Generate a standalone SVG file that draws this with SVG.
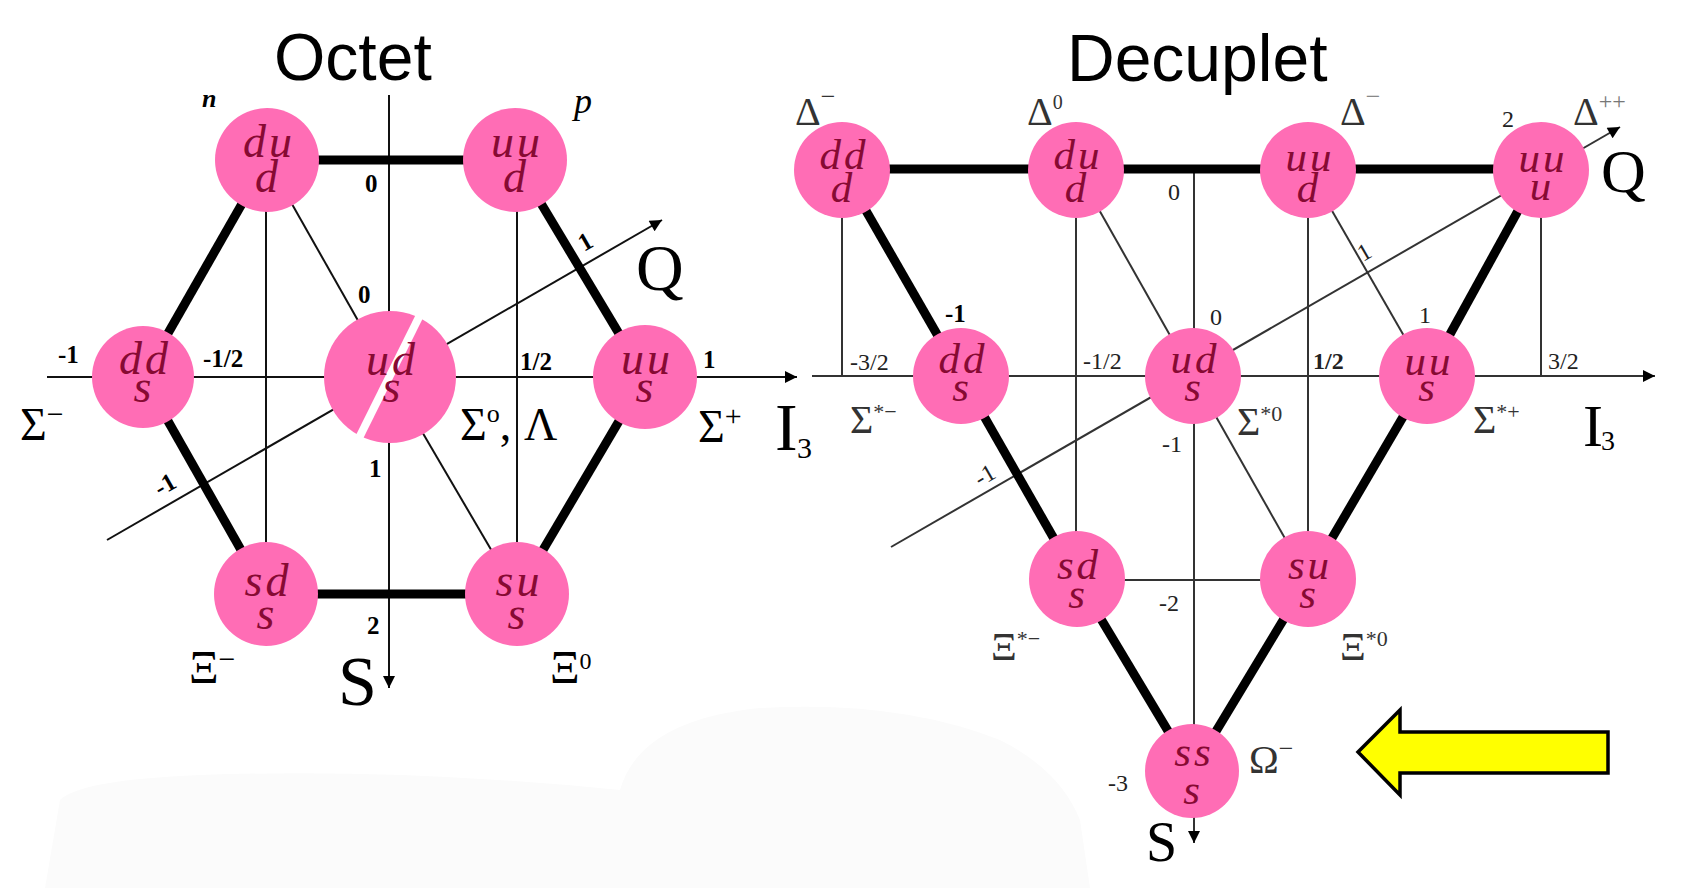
<svg xmlns="http://www.w3.org/2000/svg" width="1698" height="888" viewBox="0 0 1698 888">
<defs>
<style>
.bg{fill:#fbfbfb}
.nd{fill:#ff6db5}
.qk{font-family:"Liberation Serif",serif;font-style:italic;fill:#870a33;font-size:46px;text-anchor:middle;letter-spacing:3px}
.qd{font-family:"Liberation Serif",serif;font-style:italic;fill:#870a33;font-size:43px;text-anchor:middle;letter-spacing:3px}
.thick{stroke:#000;stroke-width:9;fill:none}
.thickd{stroke:#000;stroke-width:9;fill:none}
.thin{stroke:#111;stroke-width:2;fill:none}
.thind{stroke:#333;stroke-width:2;fill:none}
.title{font-family:"Liberation Sans",Arial,sans-serif;font-size:66px;fill:#000}
.num{font-family:"Liberation Serif",serif;font-size:25px;font-weight:bold;fill:#000}
.numd{font-family:"Liberation Serif",serif;font-size:24px;fill:#222}
.gr{font-family:"Liberation Serif",serif;font-size:46px;fill:#000}
.grd{font-family:"Liberation Serif",serif;font-size:40px;fill:#333}
.big{font-family:"Liberation Serif",serif;fill:#000}
</style>
<marker id="ah" viewBox="0 0 10 10" refX="10" refY="5" markerWidth="16" markerHeight="12" markerUnits="userSpaceOnUse" orient="auto">
<path d="M0,0 L10,5 L0,10 z" fill="#000"/>
</marker>
</defs>
<rect width="1698" height="888" fill="#fff"/>
<path class="bg" d="M45,888 L60,800 Q80,780 200,775 Q400,768 620,790 Q640,720 760,708 Q900,700 1000,740 Q1060,770 1080,820 L1090,888 Z"/>

<g id="titles">
<text class="title" x="274" y="80">Octet</text>
<text class="title" x="1067" y="81">Decuplet</text>
</g>

<g id="connectors">
<line class="thin" x1="266" y1="160" x2="266" y2="594"/>
<line class="thin" x1="517" y1="160" x2="517" y2="594"/>
<line class="thin" x1="267" y1="160" x2="390" y2="377"/>
<line class="thin" x1="390" y1="377" x2="517" y2="594"/>
<line class="thin" x1="47" y1="377" x2="797" y2="377" marker-end="url(#ah)"/>
<line class="thin" x1="389" y1="95" x2="389" y2="688" marker-end="url(#ah)"/>
<line class="thin" x1="107" y1="540" x2="662" y2="220" marker-end="url(#ah)"/>
<line class="thick" x1="267" y1="160" x2="515" y2="160"/>
<line class="thick" x1="515" y1="160" x2="645" y2="377"/>
<line class="thick" x1="645" y1="377" x2="517" y2="594"/>
<line class="thick" x1="517" y1="594" x2="266" y2="594"/>
<line class="thick" x1="266" y1="594" x2="143" y2="377"/>
<line class="thick" x1="143" y1="377" x2="267" y2="160"/>
<line class="thind" x1="842" y1="169" x2="842" y2="376"/>
<line class="thind" x1="1076" y1="169" x2="1076" y2="579"/>
<line class="thind" x1="1308" y1="169" x2="1308" y2="579"/>
<line class="thind" x1="1541" y1="169" x2="1541" y2="376"/>
<line class="thind" x1="1194" y1="169" x2="1194" y2="843" marker-end="url(#ah)"/>
<line class="thind" x1="1076" y1="169" x2="1193" y2="376"/>
<line class="thind" x1="1308" y1="169" x2="1427" y2="376"/>
<line class="thind" x1="1193" y1="376" x2="1308" y2="579"/>
<line class="thind" x1="1077" y1="580" x2="1308" y2="580"/>
<line class="thind" x1="812" y1="376" x2="1655" y2="376" marker-end="url(#ah)"/>
<line class="thind" x1="891" y1="547" x2="1620" y2="127" marker-end="url(#ah)"/>
<line class="thickd" x1="842" y1="169" x2="1541" y2="169"/>
<line class="thickd" x1="842" y1="169" x2="961" y2="376"/>
<line class="thickd" x1="961" y1="376" x2="1077" y2="579"/>
<line class="thickd" x1="1077" y1="579" x2="1192" y2="771"/>
<line class="thickd" x1="1541" y1="169" x2="1427" y2="376"/>
<line class="thickd" x1="1427" y1="376" x2="1308" y2="579"/>
<line class="thickd" x1="1308" y1="579" x2="1192" y2="771"/>
</g>

<g id="oct-n"><circle class="nd" cx="267" cy="160" r="52"/><text class="qk"><tspan x="269" y="157">du</tspan><tspan x="268" y="192">d</tspan></text></g>
<g id="oct-p"><circle class="nd" cx="515" cy="160" r="52"/><text class="qk"><tspan x="517" y="157">uu</tspan><tspan x="516" y="192">d</tspan></text></g>
<g id="oct-sigma-minus"><circle class="nd" cx="143" cy="377" r="51"/><text class="qk"><tspan x="145" y="374">dd</tspan><tspan x="144" y="402">s</tspan></text></g>
<g id="oct-sigma0-lambda"><circle class="nd" cx="390" cy="377" r="66"/><line x1="423" y1="309" x2="355" y2="446" stroke="#fff" stroke-width="8"/><text class="qk"><tspan x="392" y="375">ud</tspan><tspan x="393" y="402">s</tspan></text></g>
<g id="oct-sigma-plus"><circle class="nd" cx="645" cy="377" r="52"/><text class="qk"><tspan x="647" y="374">uu</tspan><tspan x="646" y="402">s</tspan></text></g>
<g id="oct-xi-minus"><circle class="nd" cx="266" cy="594" r="52"/><text class="qk"><tspan x="268" y="596">sd</tspan><tspan x="267" y="629">s</tspan></text></g>
<g id="oct-xi0"><circle class="nd" cx="517" cy="594" r="52"/><text class="qk"><tspan x="519" y="596">su</tspan><tspan x="518" y="629">s</tspan></text></g>

<g id="dec-delta-minus"><circle class="nd" cx="842" cy="170" r="48"/><text class="qd"><tspan x="844" y="169">dd</tspan><tspan x="843" y="202">d</tspan></text></g>
<g id="dec-delta0"><circle class="nd" cx="1076" cy="170" r="48"/><text class="qd"><tspan x="1078" y="169">du</tspan><tspan x="1077" y="202">d</tspan></text></g>
<g id="dec-delta-plus"><circle class="nd" cx="1308" cy="170" r="48"/><text class="qd"><tspan x="1310" y="171">uu</tspan><tspan x="1309" y="202">d</tspan></text></g>
<g id="dec-delta-pp"><circle class="nd" cx="1541" cy="170" r="48"/><text class="qd"><tspan x="1543" y="172">uu</tspan><tspan x="1542" y="200">u</tspan></text></g>
<g id="dec-sigma-minus"><circle class="nd" cx="961" cy="376" r="48"/><text class="qd"><tspan x="963" y="373">dd</tspan><tspan x="962" y="401">s</tspan></text></g>
<g id="dec-sigma0"><circle class="nd" cx="1193" cy="376" r="48"/><text class="qd"><tspan x="1195" y="373">ud</tspan><tspan x="1194" y="401">s</tspan></text></g>
<g id="dec-sigma-plus"><circle class="nd" cx="1427" cy="376" r="48"/><text class="qd"><tspan x="1429" y="375">uu</tspan><tspan x="1428" y="401">s</tspan></text></g>
<g id="dec-xi-minus"><circle class="nd" cx="1077" cy="579" r="48"/><text class="qd"><tspan x="1079" y="579">sd</tspan><tspan x="1078" y="608">s</tspan></text></g>
<g id="dec-xi0"><circle class="nd" cx="1308" cy="579" r="48"/><text class="qd"><tspan x="1310" y="579">su</tspan><tspan x="1309" y="608">s</tspan></text></g>
<g id="dec-omega"><circle class="nd" cx="1192" cy="771" r="47"/><text class="qd"><tspan x="1194" y="766">ss</tspan><tspan x="1193" y="804">s</tspan></text></g>

<g id="octet-labels">
<text class="big" x="202" y="107" font-size="26" font-style="italic" font-weight="bold">n</text>
<text class="big" x="574" y="113" font-size="36" font-style="italic">p</text>
<text class="num" x="365" y="192">0</text>
<text class="num" x="358" y="303">0</text>
<text class="num" x="58" y="363">-1</text>
<text class="num" x="203" y="367">-1/2</text>
<text class="num" x="520" y="370">1/2</text>
<text class="num" x="703" y="368">1</text>
<text class="num" x="369" y="477">1</text>
<text class="num" x="367" y="634">2</text>
<text class="num" transform="translate(584,252) rotate(-30)">1</text>
<text class="num" transform="translate(160,497) rotate(-30)">-1</text>
<text class="gr" x="20" y="440">Σ<tspan font-size="30" dy="-16">−</tspan></text>
<text class="gr" x="460" y="440">Σ<tspan font-size="26" dy="-18">o</tspan><tspan dy="18">,</tspan></text>
<text class="gr" x="524" y="440">Λ</text>
<text class="gr" x="698" y="442">Σ<tspan font-size="30" dy="-16">+</tspan></text>
<text class="big" x="775" y="450" font-size="68">I</text>
<text class="big" x="797" y="458" font-size="30">3</text>
<text class="gr" x="189" y="683">Ξ<tspan font-size="30" dy="-14">−</tspan></text>
<text class="gr" x="550" y="683">Ξ<tspan font-size="24" dy="-14">0</tspan></text>
<text class="big" x="636" y="290" font-size="66">Q</text>
<text class="big" x="338" y="705" font-size="70">S</text>
</g>

<g id="decuplet-labels">
<text class="grd" x="795" y="125">Δ<tspan font-size="26" dy="-20">−</tspan></text>
<text class="grd" x="1027" y="125">Δ<tspan font-size="20" dy="-16">0</tspan></text>
<text class="grd" x="1340" y="125">Δ<tspan font-size="26" dy="-20" fill="#888">−</tspan></text>
<text class="numd" x="1502" y="127" fill="#555">2</text>
<text class="grd" x="1573" y="125">Δ<tspan font-size="24" dy="-16" fill="#777">++</tspan></text>
<text class="numd" x="1168" y="200">0</text>
<text class="numd" x="1210" y="325">0</text>
<text class="num" x="945" y="322" font-size="24">-1</text>
<text class="numd" x="850" y="370" font-size="22">-3/2</text>
<text class="numd" x="1083" y="369" font-size="22">-1/2</text>
<text class="numd" x="1313" y="369" font-size="22" font-weight="bold">1/2</text>
<text class="numd" x="1548" y="369" font-size="22">3/2</text>
<text class="numd" x="1419" y="323">1</text>
<text class="numd" transform="translate(1363,262) rotate(-30)">1</text>
<text class="numd" transform="translate(980,487) rotate(-30)">-1</text>
<text class="numd" x="1162" y="452">-1</text>
<text class="numd" x="1159" y="611">-2</text>
<text class="numd" x="1108" y="791">-3</text>
<text class="grd" x="850" y="433">Σ<tspan font-size="22" dy="-14">*−</tspan></text>
<text class="grd" x="1237" y="435">Σ<tspan font-size="22" dy="-14">*0</tspan></text>
<text class="grd" x="1473" y="433">Σ<tspan font-size="22" dy="-14">*+</tspan></text>
<text class="grd" x="991" y="660">Ξ<tspan font-size="22" dy="-14">*−</tspan></text>
<text class="grd" x="1340" y="660">Ξ<tspan font-size="22" dy="-14">*0</tspan></text>
<text class="grd" x="1249" y="773">Ω<tspan font-size="26" dy="-16">−</tspan></text>
<text class="big" x="1601" y="192" font-size="62">Q</text>
<text class="big" x="1583" y="446" font-size="60">I</text>
<text class="big" x="1601" y="450" font-size="28" fill="#444">3</text>
<text class="big" x="1146" y="861" font-size="56">S</text>
</g>

<g id="yellow-arrow">
<polygon points="1358,752 1400,710 1400,732 1608,732 1608,773 1400,773 1400,795" fill="#ffff00" stroke="#000" stroke-width="3.5" stroke-linejoin="miter"/>
</g>
</svg>
